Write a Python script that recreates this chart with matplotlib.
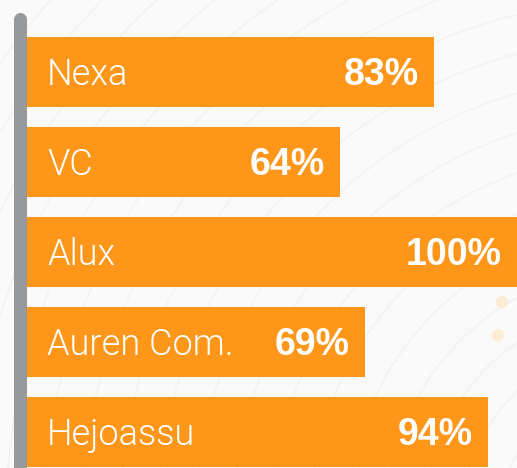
import numpy as np
import matplotlib
matplotlib.use("Agg")
import matplotlib.pyplot as plt
from matplotlib.lines import Line2D
from matplotlib.patches import Circle

companies = ["Nexa", "VC", "Alux", "Auren Com.", "Hejoassu"]
shares = [83, 64, 100, 69, 94]
share_labels = ["83%", "64%", "100%", "69%", "94%"]

W, H = 517, 468
fig = plt.figure(figsize=(W / 100, H / 100), dpi=100)
fig.patch.set_facecolor("#fafafa")

# faint background arcs
bg = fig.add_axes([0, 0, 1, 1])
bg.set_xlim(0, W)
bg.set_ylim(H, 0)
bg.axis("off")
for r in range(140, 900, 38):
    bg.add_patch(Circle((640, 520), r, fill=False, ec="#f3f3f3", lw=1.5))
bg.add_patch(Circle((502, 302), 6, color="#fdebd3", ec="none"))
bg.add_patch(Circle((498, 335), 6, color="#fdebd3", ec="none"))

x0 = 26
ax = fig.add_axes([x0 / W, 0, 1 - x0 / W, 1])
ax.patch.set_alpha(0)
pitch = 90
ypos = np.arange(len(companies))
ax.barh(ypos, shares, height=70 / pitch, color="#fe961a", left=0)
ax.set_xlim(0, 100)
top = -72 / pitch
ax.set_ylim(top + H / pitch, top)
ax.axis("off")

for y, name, lab, v in zip(ypos, companies, share_labels, shares):
    ax.annotate(name, (0, y), xytext=(21, -3), textcoords="offset pixels",
                ha="left", va="center", color="white", fontsize=26,
                family="Roboto", weight=300)
    ax.annotate(lab, (v, y), xytext=(-15, -3), textcoords="offset pixels",
                ha="right", va="center", color="white", fontsize=27,
                family="Liberation Sans", weight="bold")

# gray axis stub with rounded top
fig.add_artist(Line2D([19.5 / W, 19.5 / W], [1 - 18.5 / H, -0.05],
                      transform=fig.transFigure, color="#98999d", lw=9.4,
                      solid_capstyle="round"))

fig.savefig("out.png", dpi=100, facecolor=fig.get_facecolor())
